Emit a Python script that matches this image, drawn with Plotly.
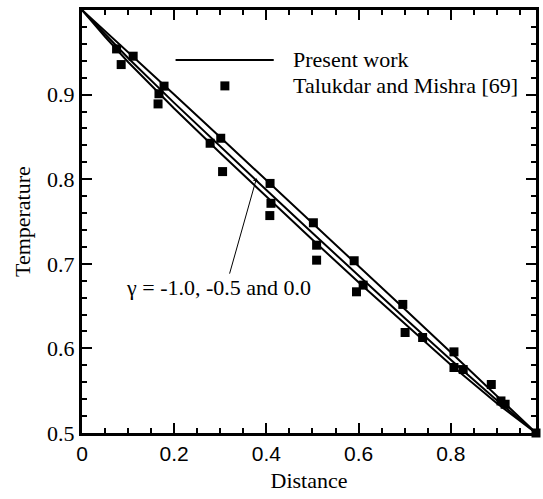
import plotly.graph_objects as go

# ---- data ----
line_x = [0.0, 0.05, 0.1, 0.2, 0.3, 0.4, 0.5, 0.6, 0.7, 0.8, 0.9, 0.985]
line_top = [1.0, 0.9753, 0.9504, 0.9002, 0.8496, 0.7990, 0.7482, 0.6974, 0.6465, 0.5954, 0.5441, 0.5]
line_mid = [1.0, 0.9712, 0.9433, 0.8902, 0.8384, 0.7872, 0.7364, 0.6858, 0.6359, 0.5865, 0.5388, 0.5]
line_bot = [1.0, 0.9684, 0.9386, 0.8835, 0.8309, 0.7793, 0.7285, 0.6781, 0.6288, 0.5806, 0.5352, 0.5]

pts_x = [0.075, 0.085, 0.111, 0.165, 0.167, 0.178, 0.278, 0.301, 0.305, 0.408, 0.410, 0.4075,
         0.502, 0.509, 0.509, 0.5905, 0.610, 0.5955, 0.696, 0.701, 0.739, 0.807, 0.807, 0.827,
         0.888, 0.909, 0.918, 0.985]
pts_y = [0.954, 0.9355, 0.9454, 0.889, 0.901, 0.910, 0.8425, 0.8484, 0.809, 0.795, 0.7715, 0.757,
         0.7485, 0.722, 0.7043, 0.7036, 0.6748, 0.6669, 0.652, 0.6188, 0.6129, 0.5959, 0.5774, 0.575,
         0.5573, 0.5379, 0.534, 0.5]

x_ticks = [0, 0.2, 0.4, 0.6, 0.8]
x_ticklabels = ["0", "0.2", "0.4", "0.6", "0.8"]
y_ticks = [0.5, 0.6, 0.7, 0.8, 0.9, 1.0]
y_ticklabels = ["0.5", "0.6", "0.7", "0.8", "0.9", "1"]

legend_labels = ["Present work", "Talukdar and Mishra [69]"]
gamma_label = "γ = -1.0, -0.5 and 0.0"
x_title = "Distance"
y_title = "Temperature"

SERIF = "Liberation Serif"
SANS = "Liberation Sans"

fig = go.Figure()
for ys in (line_top, line_mid, line_bot):
    fig.add_trace(go.Scatter(x=line_x, y=ys, mode="lines",
                             line=dict(color="black", width=2), showlegend=False,
                             hoverinfo="skip"))
fig.add_trace(go.Scatter(x=pts_x, y=pts_y, mode="markers",
                         marker=dict(symbol="square", size=9, color="black"),
                         showlegend=False, cliponaxis=False))

axis_common = dict(showline=True, linecolor="black", linewidth=3, mirror="ticks",
                   ticks="inside", ticklen=10, tickwidth=2, tickcolor="black",
                   showgrid=False, zeroline=False)

fig.update_xaxes(range=[0, 0.985], tickvals=x_ticks, ticktext=x_ticklabels,
                 tickfont=dict(family=SANS, size=21, color="black"),
                 minor=dict(dtick=0.05, tick0=0, ticks="inside", ticklen=5, tickwidth=1.5,
                            tickcolor="black", showgrid=False),
                 title=dict(text=x_title, font=dict(family=SERIF, size=22, color="black"),
                            standoff=9),
                 **axis_common)
fig.update_yaxes(range=[0.5, 1.0], tickvals=y_ticks, ticktext=y_ticklabels,
                 tickfont=dict(family=SERIF, size=22, color="black"),
                 minor=dict(dtick=0.02, tick0=0.5, ticks="inside", ticklen=5, tickwidth=1.5,
                            tickcolor="black", showgrid=False),
                 **axis_common)

# y-axis title as rotated annotation
fig.add_annotation(x=-0.131, y=0.5, xref="paper", yref="paper", text=y_title,
                   textangle=-90, showarrow=False, xanchor="center", yanchor="middle",
                   font=dict(family=SERIF, size=22, color="black"))

# legend (custom)
fig.add_shape(type="line", xref="x", yref="y", x0=0.203, x1=0.416, y0=0.941, y1=0.941,
              line=dict(color="black", width=2))
fig.add_shape(type="rect", xref="x", yref="y", xsizemode="pixel", ysizemode="pixel",
              xanchor=0.31, yanchor=0.9103, x0=-4.5, x1=4.5, y0=-4.5, y1=4.5,
              fillcolor="black", line=dict(width=0))
fig.add_annotation(x=0.4534, y=0.941, xref="x", yref="y", text=legend_labels[0],
                   showarrow=False, xanchor="left", yanchor="middle",
                   font=dict(family=SERIF, size=22, color="black"))
fig.add_annotation(x=0.4534, y=0.9103, xref="x", yref="y", text=legend_labels[1],
                   showarrow=False, xanchor="left", yanchor="middle",
                   font=dict(family=SERIF, size=22, color="black"))

# gamma annotation
fig.add_annotation(x=0.2956, y=0.6724, xref="x", yref="y", text=gamma_label,
                   showarrow=False, xanchor="center", yanchor="middle",
                   font=dict(family=SERIF, size=22, color="black"))
fig.add_annotation(x=0.3785, y=0.801, xref="x", yref="y", ax=0.3193, ay=0.6866,
                   axref="x", ayref="y", text="", showarrow=True, arrowhead=1,
                   arrowsize=1, arrowwidth=1, arrowcolor="black", standoff=0)

fig.update_layout(width=543, height=499, margin=dict(l=82, r=4, t=10, b=66),
                  plot_bgcolor="white", paper_bgcolor="white",
                  font=dict(family=SERIF, color="black"))

fig.write_html("out.html")
